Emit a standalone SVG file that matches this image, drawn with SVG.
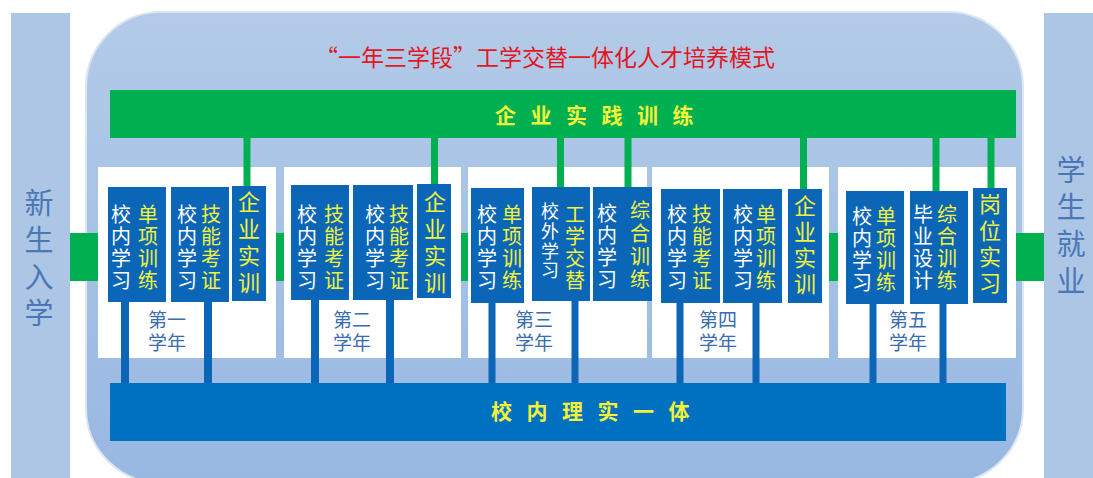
<svg xmlns="http://www.w3.org/2000/svg" width="1093" height="478" viewBox="0 0 1093 478">
<defs>
<style>
.side{fill:#ADC6E6}
.panel{fill:#ffffff}
.box{fill:#0B66B8}
.gr{fill:#00B050}
.bl{fill:#0B66B8}
.t{font-family:"Noto Sans CJK SC",sans-serif;text-anchor:middle}
.w{fill:#ffffff;font-size:20px}
.y{fill:#F2F23A;font-size:20px}
.y1{fill:#F2F23A;font-size:22px}
.yr{fill:#3A6CB0;font-size:19px}
.sd{fill:#4A78B4;font-size:29px}
.bar{fill:#F2F23A;font-size:21px;font-weight:bold;font-family:"Noto Sans CJK SC",sans-serif}
</style>
<linearGradient id="bgg" x1="0" y1="0" x2="0" y2="1">
<stop offset="0" stop-color="#B3CBE8"/>
<stop offset="1" stop-color="#98B8E2"/>
</linearGradient>
</defs>
<rect width="1093" height="478" fill="#ffffff"/>
<g id="background">
<rect x="86" y="12" width="937" height="471" rx="75" ry="75" fill="url(#bgg)" stroke="#DCE6F2" stroke-width="2"/>
<text class="t" x="545" y="66" fill="#E3161E" font-size="23">“一年三学段”工学交替一体化人才培养模式</text>
</g>
<g id="start">
<rect class="side" x="11" y="13" width="59" height="465"/>
<text class="t sd" x="39"><tspan x="39" y="214">新</tspan><tspan x="39" y="251">生</tspan><tspan x="39" y="288">入</tspan><tspan x="39" y="324">学</tspan></text>
</g>
<g id="end">
<rect class="side" x="1044" y="13" width="49" height="465"/>
<text class="t sd" x="1071"><tspan x="1071" y="181">学</tspan><tspan x="1071" y="218">生</tspan><tspan x="1071" y="255">就</tspan><tspan x="1071" y="292">业</tspan></text>
</g>
<g id="enterprise">
<rect class="gr" x="110" y="90" width="906" height="48"/>
<text class="bar" x="495 530.5 566 601.5 637 672.5" y="123">企业实践训练</text>
</g>
<g id="school">
<rect x="110" y="383" width="896" height="58" fill="#0070C0"/>
<text class="bar" x="491 526.5 562 597.5 633 668.5" y="419">校内理实一体</text>
</g>

<g id="year1">
<rect class="panel" x="98" y="167" width="178" height="191"/>
<rect class="box" x="108" y="187" width="58" height="115"/>
<text class="t w"><tspan x="121" y="222">校</tspan><tspan x="121" y="244">内</tspan><tspan x="121" y="266">学</tspan><tspan x="121" y="288">习</tspan></text>
<text class="t y"><tspan x="148" y="222">单</tspan><tspan x="148" y="244">项</tspan><tspan x="148" y="266">训</tspan><tspan x="148" y="288">练</tspan></text>
<rect class="box" x="171" y="187" width="58" height="115"/>
<text class="t w"><tspan x="187" y="222">校</tspan><tspan x="187" y="244">内</tspan><tspan x="187" y="266">学</tspan><tspan x="187" y="288">习</tspan></text>
<text class="t y"><tspan x="211" y="222">技</tspan><tspan x="211" y="244">能</tspan><tspan x="211" y="266">考</tspan><tspan x="211" y="288">证</tspan></text>
<rect class="box" x="232" y="186" width="34" height="115"/>
<text class="t y1"><tspan x="249" y="210">企</tspan><tspan x="249" y="237">业</tspan><tspan x="249" y="264">实</tspan><tspan x="249" y="291">训</tspan></text>
<text class="t yr"><tspan x="167" y="327">第一</tspan><tspan x="167" y="350">学年</tspan></text>
</g>

<g id="year2">
<rect class="panel" x="284" y="167" width="177" height="191"/>
<rect class="box" x="291" y="185" width="58" height="115"/>
<text class="t w"><tspan x="307" y="222">校</tspan><tspan x="307" y="244">内</tspan><tspan x="307" y="266">学</tspan><tspan x="307" y="288">习</tspan></text>
<text class="t y"><tspan x="334" y="222">技</tspan><tspan x="334" y="244">能</tspan><tspan x="334" y="266">考</tspan><tspan x="334" y="288">证</tspan></text>
<rect class="box" x="353" y="185" width="60" height="115"/>
<text class="t w"><tspan x="375" y="222">校</tspan><tspan x="375" y="244">内</tspan><tspan x="375" y="266">学</tspan><tspan x="375" y="288">习</tspan></text>
<text class="t y"><tspan x="399" y="222">技</tspan><tspan x="399" y="244">能</tspan><tspan x="399" y="266">考</tspan><tspan x="399" y="288">证</tspan></text>
<rect class="box" x="417" y="184" width="34" height="114"/>
<text class="t y1"><tspan x="435" y="210">企</tspan><tspan x="435" y="237">业</tspan><tspan x="435" y="264">实</tspan><tspan x="435" y="291">训</tspan></text>
<text class="t yr"><tspan x="352" y="327">第二</tspan><tspan x="352" y="350">学年</tspan></text>
</g>

<g id="year3">
<rect class="panel" x="468" y="167" width="179" height="191"/>
<rect class="box" x="471" y="188" width="53" height="115"/>
<text class="t w"><tspan x="487" y="222">校</tspan><tspan x="487" y="244">内</tspan><tspan x="487" y="266">学</tspan><tspan x="487" y="288">习</tspan></text>
<text class="t y"><tspan x="512" y="222">单</tspan><tspan x="512" y="244">项</tspan><tspan x="512" y="266">训</tspan><tspan x="512" y="288">练</tspan></text>
<rect class="box" x="532" y="187" width="58" height="114"/>
<text class="t w" style="font-size:18px"><tspan x="550" y="218">校</tspan><tspan x="550" y="238">外</tspan><tspan x="550" y="258">学</tspan><tspan x="550" y="277">习</tspan></text>
<text class="t y"><tspan x="575" y="222">工</tspan><tspan x="575" y="244">学</tspan><tspan x="575" y="266">交</tspan><tspan x="575" y="288">替</tspan></text>
<rect class="box" x="593" y="187" width="59" height="114"/>
<text class="t w"><tspan x="607" y="221">校</tspan><tspan x="607" y="243">内</tspan><tspan x="607" y="265">学</tspan><tspan x="607" y="287">习</tspan></text>
<text class="t y"><tspan x="640" y="218">综</tspan><tspan x="640" y="241">合</tspan><tspan x="640" y="264">训</tspan><tspan x="640" y="287">练</tspan></text>
<text class="t yr"><tspan x="534" y="327">第三</tspan><tspan x="534" y="350">学年</tspan></text>
</g>

<g id="year4">
<rect class="panel" x="652" y="167" width="177" height="191"/>
<rect class="box" x="661" y="189" width="59" height="114"/>
<text class="t w"><tspan x="677" y="222">校</tspan><tspan x="677" y="244">内</tspan><tspan x="677" y="266">学</tspan><tspan x="677" y="288">习</tspan></text>
<text class="t y"><tspan x="702" y="222">技</tspan><tspan x="702" y="244">能</tspan><tspan x="702" y="266">考</tspan><tspan x="702" y="288">证</tspan></text>
<rect class="box" x="723" y="189" width="59" height="114"/>
<text class="t w"><tspan x="743" y="222">校</tspan><tspan x="743" y="244">内</tspan><tspan x="743" y="266">学</tspan><tspan x="743" y="288">习</tspan></text>
<text class="t y"><tspan x="766" y="222">单</tspan><tspan x="766" y="244">项</tspan><tspan x="766" y="266">训</tspan><tspan x="766" y="288">练</tspan></text>
<rect class="box" x="788" y="189" width="34" height="114"/>
<text class="t y1"><tspan x="805" y="214">企</tspan><tspan x="805" y="240">业</tspan><tspan x="805" y="266">实</tspan><tspan x="805" y="292">训</tspan></text>
<text class="t yr"><tspan x="718" y="327">第四</tspan><tspan x="718" y="350">学年</tspan></text>
</g>

<g id="year5">
<rect class="panel" x="838" y="167" width="178" height="191"/>
<rect class="box" x="846" y="191" width="58" height="113"/>
<text class="t w"><tspan x="862" y="224">校</tspan><tspan x="862" y="246">内</tspan><tspan x="862" y="268">学</tspan><tspan x="862" y="290">习</tspan></text>
<text class="t y"><tspan x="886" y="224">单</tspan><tspan x="886" y="246">项</tspan><tspan x="886" y="268">训</tspan><tspan x="886" y="290">练</tspan></text>
<rect class="box" x="910" y="191" width="58" height="113"/>
<text class="t w"><tspan x="923" y="222">毕</tspan><tspan x="923" y="244">业</tspan><tspan x="923" y="266">设</tspan><tspan x="923" y="288">计</tspan></text>
<text class="t y"><tspan x="947" y="222">综</tspan><tspan x="947" y="244">合</tspan><tspan x="947" y="266">训</tspan><tspan x="947" y="288">练</tspan></text>
<rect class="box" x="973" y="188" width="34" height="115"/>
<text class="t y1"><tspan x="990" y="212">岗</tspan><tspan x="990" y="239">位</tspan><tspan x="990" y="265">实</tspan><tspan x="990" y="291">习</tspan></text>
<text class="t yr"><tspan x="908" y="327">第五</tspan><tspan x="908" y="350">学年</tspan></text>
</g>

<g id="connectors">
<rect class="gr" x="70" y="233" width="28" height="48"/>
<rect class="gr" x="276" y="233" width="8" height="48"/>
<rect class="gr" x="461" y="233" width="7" height="48"/>
<rect class="gr" x="829" y="233" width="9" height="48"/>
<rect class="gr" x="1016" y="233" width="28" height="48"/>
<rect class="gr" x="243.5" y="138" width="7" height="48"/>
<rect class="gr" x="431" y="138" width="7" height="46"/>
<rect class="gr" x="557" y="138" width="7" height="49"/>
<rect class="gr" x="624.5" y="138" width="7" height="49"/>
<rect class="gr" x="800" y="138" width="7" height="51"/>
<rect class="gr" x="932.5" y="138" width="7" height="53"/>
<rect class="gr" x="987.5" y="138" width="7" height="50"/>
<rect class="bl" x="121" y="302" width="8" height="81"/>
<rect class="bl" x="204" y="302" width="8" height="81"/>
<rect class="bl" x="311" y="300" width="8" height="83"/>
<rect class="bl" x="386" y="300" width="8" height="83"/>
<rect class="bl" x="488.5" y="303" width="7" height="80"/>
<rect class="bl" x="571.5" y="301" width="7" height="82"/>
<rect class="bl" x="676.5" y="303" width="7" height="80"/>
<rect class="bl" x="752.5" y="303" width="7" height="80"/>
<rect class="bl" x="869.5" y="304" width="7" height="79"/>
<rect class="bl" x="939.5" y="304" width="7" height="79"/>
</g>
</svg>
